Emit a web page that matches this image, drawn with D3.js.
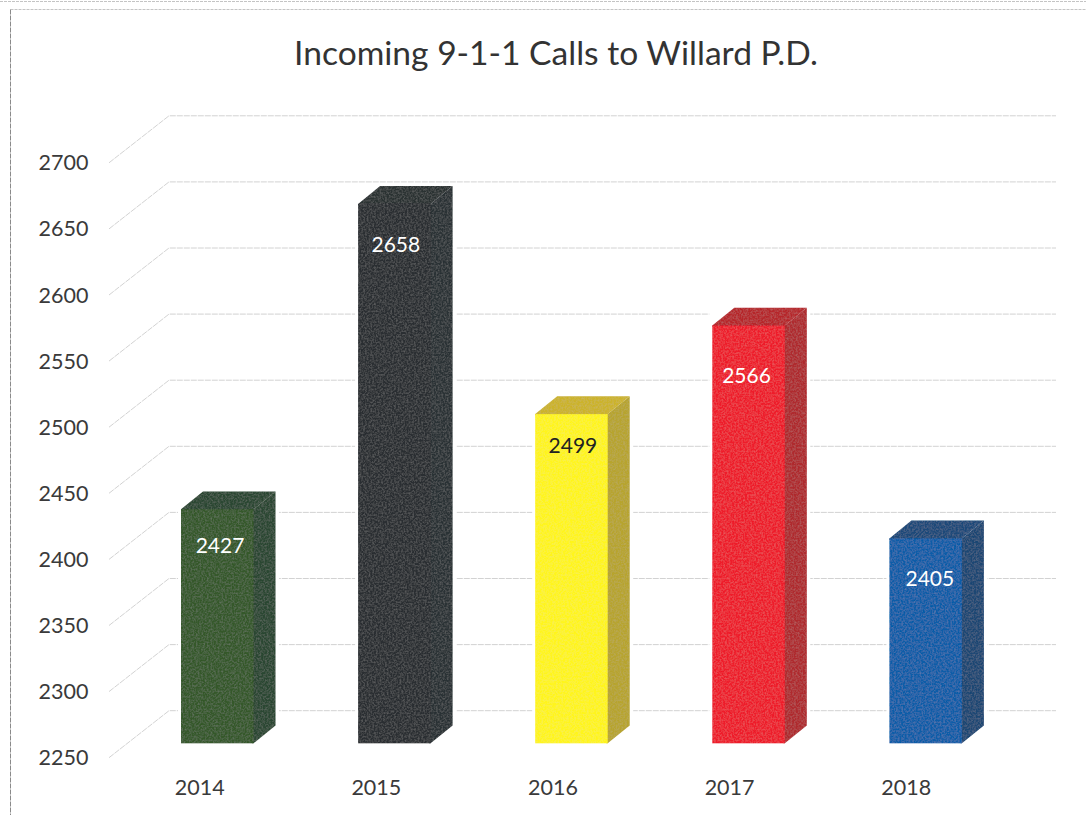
<!DOCTYPE html>
<html><head><meta charset="utf-8">
<script src="https://cdn.jsdelivr.net/npm/d3@7/dist/d3.min.js"></script>
<style>html,body{margin:0;padding:0;background:#fff}svg{display:block}text{font-family:Lato,"Open Sans",sans-serif}</style>
</head><body><div id="chart"></div>
<script>
const titleText = "Incoming 9-1-1 Calls to Willard P.D.";
const years = ["2014","2015","2016","2017","2018"];
const calls = [2427,2658,2499,2566,2405];
const yTicks = [2250,2300,2350,2400,2450,2500,2550,2600,2650,2700];

const W = 1086, H = 815;
const frontColors = ["#35582c","#2a2f31","#fff51a","#ee1a2c","#0b5da8"];
const sideColors  = ["#2c4632","#2b3235","#b7a42f","#af292d","#1c4773"];
const topColors   = ["#2b4630","#2a3032","#ccb32c","#b6262c","#1d4a79"];
const labelColors = ["#fff","#fff","#222","#fff","#fff"];
const labelDrop   = [36,41,31,50,40];
const labelShift  = [2.75,1.5,1.5,-2,4.2];

const svg = d3.select("#chart").append("svg").attr("width",W).attr("height",H);
const defs = svg.append("defs");
const f = defs.append("filter").attr("id","grain").attr("x",0).attr("y",0).attr("width",1).attr("height",1);
f.append("feTurbulence").attr("type","fractalNoise").attr("baseFrequency",0.55).attr("numOctaves",2).attr("seed",4).attr("result","n");
f.append("feColorMatrix").attr("in","n").attr("type","matrix")
 .attr("values","0 0 0 0 0.55  0 0 0 0 0.55  0 0 0 0 0.55  0.3 0 0 0 -0.11").attr("result","w");
f.append("feComposite").attr("in","w").attr("in2","SourceGraphic").attr("operator","in").attr("result","c");
f.append("feMerge").selectAll("feMergeNode").data(["SourceGraphic","c"]).join("feMergeNode").attr("in",d=>d);

// page edges left by the scan
const edge = svg.append("g").attr("fill","none").attr("stroke","#8a8a8a");
edge.append("line").attr("x1",0).attr("x2",W).attr("y1",1.5).attr("y2",1.5).attr("stroke","#c4c4c4").attr("stroke-dasharray","3 1");
edge.append("line").attr("x1",10.5).attr("x2",W).attr("y1",9.5).attr("y2",9.5).attr("stroke","#c4c4c4").attr("stroke-dasharray","3 1");
edge.append("line").attr("x1",10.5).attr("x2",10.5).attr("y1",9.5).attr("y2",H).attr("stroke-dasharray","5 1");

// scales (front plane of the 3-D frame)
const y = d3.scaleLinear().domain([2250,2700]).range([757.7,162.8]);
const x = d3.scalePoint().domain(years).range([199.7,906.2]);
const xBar = d3.scalePoint().domain(years).range([181,889.4]);
const backDx = 60, backDy = 47;         // floor depth of the frame
const barInDy = 14.4;                   // bar front face sits this far into the floor
const barW = 72.5, barDx = 22, barDy = 17.8;
const rightEnd = 1056;

// frame grid
const grid = svg.append("g").attr("fill","none").attr("stroke","#cdcdcd").attr("stroke-width",0.9).attr("stroke-dasharray","6 1");
grid.selectAll("path").data(yTicks).join("path")
  .attr("d",d=>{const yy=y(d);return `M109,${yy}L${109+backDx},${yy-backDy}L${rightEnd},${yy-backDy}`;});

// bars: white halo breaks the grid on both sides
const bars = svg.append("g").selectAll("g").data(years).join("g");
const geo = (yr,i)=>{
  const l=xBar(yr), r=l+barW, b=y(2250)-barInDy, t=y(calls[i])-barInDy;
  return {l,r,b,t};
};
bars.append("rect")
  .attr("x",(d,i)=>geo(d,i).l-3).attr("width",barW+barDx+6.5)
  .attr("y",(d,i)=>geo(d,i).t-barDy).attr("height",(d,i)=>geo(d,i).b-geo(d,i).t+barDy)
  .attr("fill","#fff");
const solids = bars.append("g").attr("filter","url(#grain)");
// side and top run slightly under the front face so no pale seam shows
solids.append("path").attr("fill",(d,i)=>sideColors[i])
  .attr("d",(d,i)=>{const g=geo(d,i);return `M${g.r-1.5},${g.t}L${g.r},${g.t}L${g.r+barDx},${g.t-barDy}L${g.r+barDx},${g.b-barDy}L${g.r},${g.b}L${g.r-1.5},${g.b}Z`;});
solids.append("path").attr("fill",(d,i)=>topColors[i])
  .attr("d",(d,i)=>{const g=geo(d,i);return `M${g.l},${g.t+1.5}L${g.l},${g.t}L${g.l+barDx},${g.t-barDy}L${g.r+barDx},${g.t-barDy}L${g.r},${g.t}L${g.r},${g.t+1.5}Z`;});
solids.append("rect").attr("fill",(d,i)=>frontColors[i])
  .attr("x",(d,i)=>geo(d,i).l).attr("width",barW)
  .attr("y",(d,i)=>geo(d,i).t).attr("height",(d,i)=>geo(d,i).b-geo(d,i).t);

// value labels
bars.append("text").attr("text-anchor","middle").attr("font-size",21)
  .attr("x",(d,i)=>geo(d,i).l+barW/2+labelShift[i])
  .attr("y",(d,i)=>geo(d,i).t+labelDrop[i]+7.5)
  .attr("fill",(d,i)=>labelColors[i]).text((d,i)=>calls[i]);

// axis labels
svg.append("g").attr("fill","#3a3a3a").selectAll("text").data(yTicks).join("text")
  .attr("x",88.5).attr("y",d=>y(d)+7.5).attr("text-anchor","end").attr("font-size",21.5).text(d=>d);
svg.append("g").attr("fill","#3a3a3a").selectAll("text").data(years).join("text")
  .attr("x",d=>x(d)).attr("y",795).attr("text-anchor","middle").attr("font-size",21.5).text(d=>d);

// title
svg.append("text").attr("x",556).attr("y",65).attr("text-anchor","middle").attr("font-size",33.6).attr("fill","#333").text(titleText);
</script></body></html>
